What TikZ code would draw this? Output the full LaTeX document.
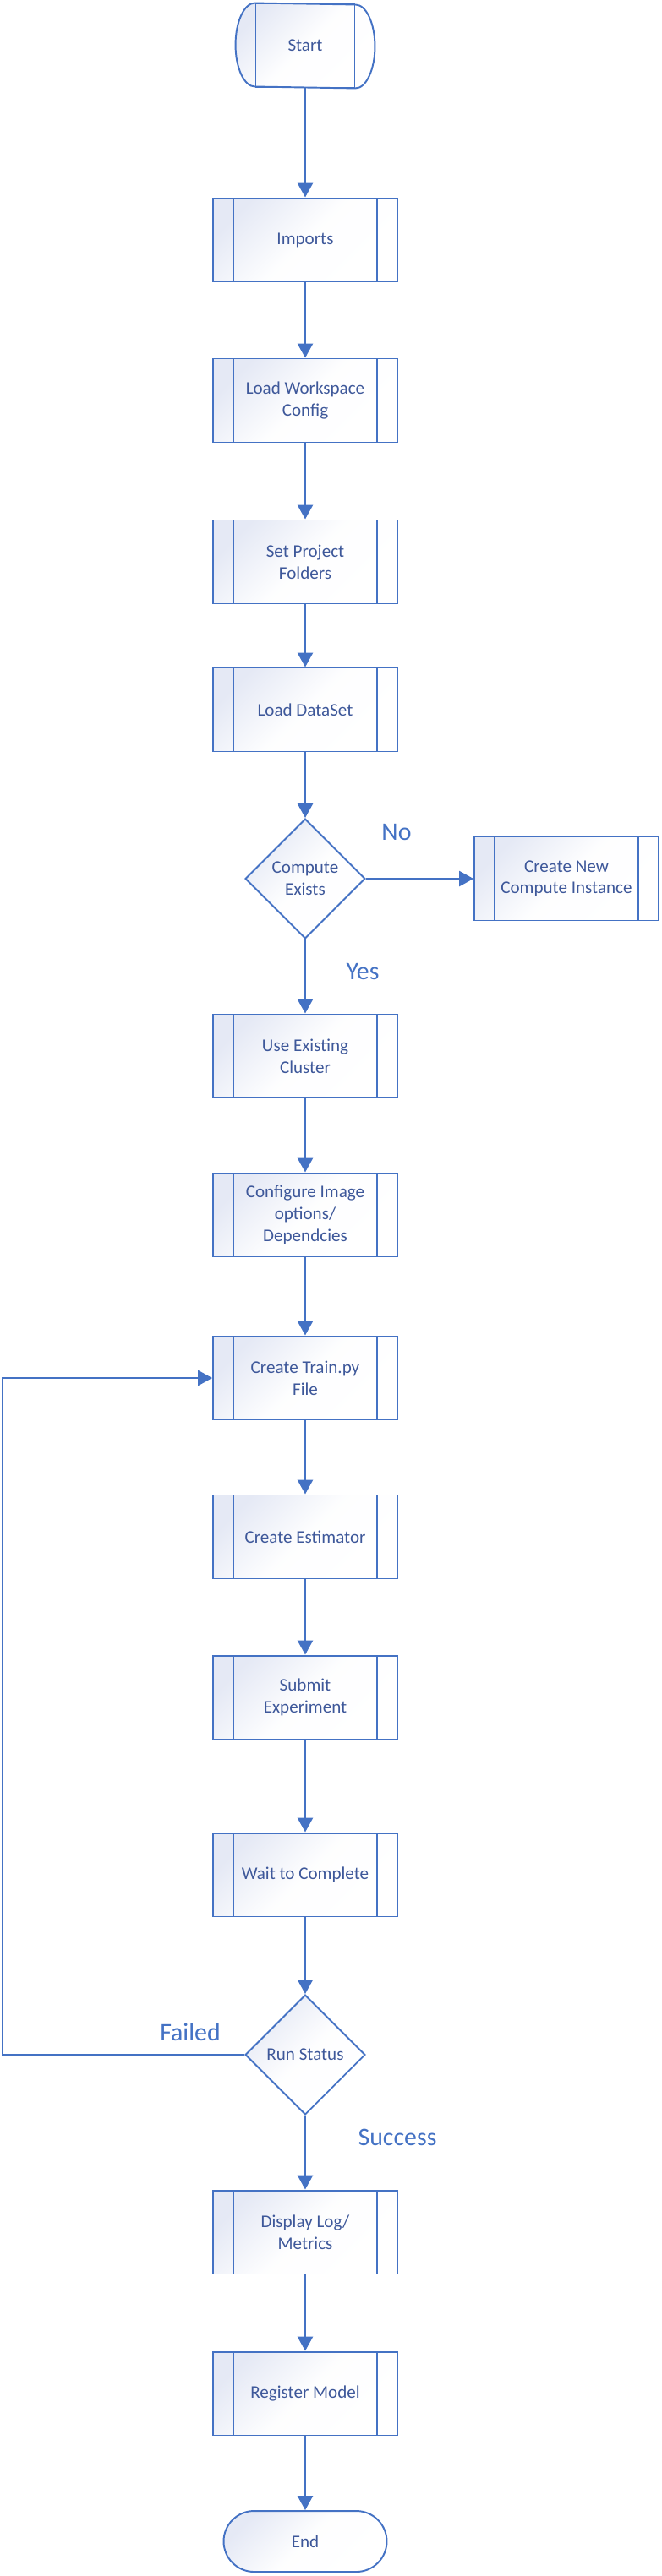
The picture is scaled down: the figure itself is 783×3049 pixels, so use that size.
\documentclass[tikz,border=0pt]{standalone}
\usepackage{fontspec}
\setmainfont{Carlito}
\usetikzlibrary{shapes.geometric}
\usetikzlibrary{arrows.meta}
\usetikzlibrary{backgrounds}

\definecolor{flowline}{RGB}{68,114,196}
\definecolor{flowtext}{RGB}{62,88,154}
\definecolor{flowfill}{RGB}{229,233,245}

\begin{document}
\begin{tikzpicture}[x=0.02cm, y=-0.02cm,
  boxline/.style={draw=flowline, line width=1.1pt},
  softfill/.style={top color=flowfill, bottom color=white, middle color=white!94!flowfill, shading angle=45},
  boxtext/.style={text=flowtext, font=\fontsize{12}{14.6}\selectfont, align=center},
  procbox/.style={rectangle, boxline, softfill, boxtext, minimum width=4.36cm, minimum height=1.98cm, inner sep=0pt,
    path picture={\draw[flowline, line width=1.1pt]
      ([xshift=0.48cm]path picture bounding box.north west) -- ([xshift=0.48cm]path picture bounding box.south west)
      ([xshift=-0.48cm]path picture bounding box.north east) -- ([xshift=-0.48cm]path picture bounding box.south east);}},
  decide/.style={diamond, boxline, softfill, boxtext, minimum width=2.84cm, minimum height=2.84cm, inner sep=0pt},
  term/.style={rectangle, rounded corners=0.72cm, boxline, softfill, boxtext, minimum width=3.86cm, minimum height=1.44cm},
  flow/.style={draw=flowline, line width=1.5pt, -{Triangle[width=0.36cm,length=0.34cm]}},
  lbl/.style={text=flowline, font=\fontsize{17}{20}\selectfont}]

  \useasboundingbox (0,0) rectangle (783,3049);

  \node[boxline, boxtext, minimum width=2.34cm, minimum height=1.98cm, inner sep=0pt] (start) at (361,54) {Start};
  \begin{scope}[on background layer]
    \draw[boxline, softfill] (start.north west) arc[start angle=90, end angle=270, x radius=0.46cm, y radius=0.99cm]
      -- (start.south east) arc[start angle=-90, end angle=90, x radius=0.46cm, y radius=0.99cm] -- cycle;
  \end{scope}

  \node[procbox] (imports) at (361,284) {Imports};
  \node[procbox] (workspace) at (361,474) {Load Workspace\\Config};
  \node[procbox] (folders) at (361,665) {Set Project\\Folders};
  \node[procbox] (dataset) at (361,840) {Load DataSet};
  \node[decide] (compute) at (361,1040) {Compute\\Exists};
  \node[procbox] (newcompute) at (670,1040) {Create New\\Compute Instance};
  \node[procbox] (existing) at (361,1250) {Use Existing\\Cluster};
  \node[procbox] (configure) at (361,1438) {Configure Image\\options/\\Dependcies};
  \node[procbox] (train) at (361,1631) {Create Train.py\\File};
  \node[procbox] (estimator) at (361,1819) {Create Estimator};
  \node[procbox] (submit) at (361,2009) {Submit\\Experiment};
  \node[procbox] (wait) at (361,2219) {Wait to Complete};
  \node[decide] (runst) at (361,2432) {Run Status};
  \node[procbox] (display) at (361,2642) {Display Log/\\Metrics};
  \node[procbox] (register) at (361,2833) {Register Model};
  \node[term] (end) at (361,3008) {End};

  \node[lbl] (nolbl) at (469,985) {No};
  \node[lbl] (yeslbl) at (429,1150) {Yes};
  \node[lbl] (faillbl) at (225,2405) {Failed};
  \node[lbl] (oklbl) at (470,2530) {Success};

  \coordinate (loopcorner) at (3,1631);

  \draw[flow] (start) -- (imports);
  \draw[flow] (imports) -- (workspace);
  \draw[flow] (workspace) -- (folders);
  \draw[flow] (folders) -- (dataset);
  \draw[flow] (dataset) -- (compute);
  \draw[flow] (compute) -- (newcompute);
  \draw[flow] (compute) -- (existing);
  \draw[flow] (existing) -- (configure);
  \draw[flow] (configure) -- (train);
  \draw[flow] (train) -- (estimator);
  \draw[flow] (estimator) -- (submit);
  \draw[flow] (submit) -- (wait);
  \draw[flow] (wait) -- (runst);
  \draw[flow] (runst.west) -| (loopcorner) -- (train.west);
  \draw[flow] (runst) -- (display);
  \draw[flow] (display) -- (register);
  \draw[flow] (register) -- (end);
\end{tikzpicture}
\end{document}
